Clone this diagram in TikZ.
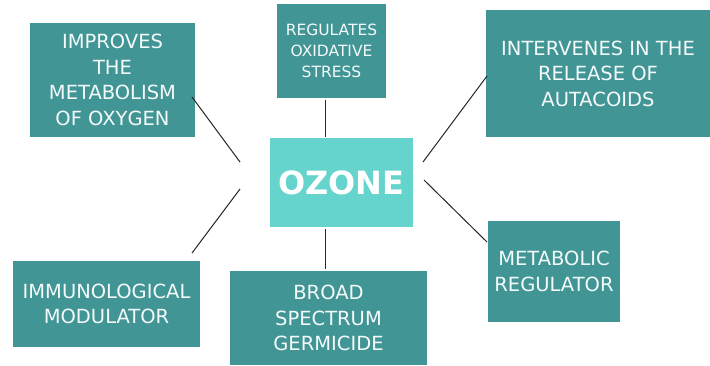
\documentclass[tikz,border=0pt]{standalone}
\usepackage{fontspec}
\setmainfont{DejaVu Sans}
\definecolor{boxteal}{HTML}{419594}
\definecolor{ozteal}{HTML}{64D4CD}
\definecolor{txt}{HTML}{F4FAFA}
\begin{document}
\begin{tikzpicture}[x=1pt,y=1pt,
  tbox/.style={fill=boxteal,draw=none,text=txt,align=center,inner sep=0pt,
    font=\fontsize{19.5}{25.5}\selectfont},
  conn/.style={draw=black!85,line width=1pt}]
\useasboundingbox[fill=white] (0,0) rectangle (710,-365);
\node[tbox,minimum width=165,minimum height=114] (imp) at (112.5,-80) {IMPROVES\\THE\\METABOLISM\\OF OXYGEN};
\node[tbox,minimum width=109,minimum height=94,font=\fontsize{15.5}{21}\selectfont] (reg) at (331.5,-51) {REGULATES\\OXIDATIVE\\STRESS};
\node[tbox,minimum width=224,minimum height=127] (int) at (598,-73.5) {INTERVENES IN THE\\RELEASE OF\\AUTACOIDS};
\node[tbox,fill=ozteal,text=white,minimum width=143,minimum height=89,font=\fontsize{32}{36}\selectfont\bfseries] (oz) at (341.5,-182.5) {OZONE};
\node[tbox,minimum width=187,minimum height=86] (imm) at (106.5,-304) {IMMUNOLOGICAL\\MODULATOR};
\node[tbox,minimum width=197,minimum height=94] (brd) at (328.5,-318) {BROAD\\SPECTRUM\\GERMICIDE};
\node[tbox,minimum width=132,minimum height=101] (met) at (554,-271.5) {METABOLIC\\REGULATOR};
\coordinate (a1) at (192,-97);  \coordinate (b1) at (240,-162);
\coordinate (a2) at (325,-100); \coordinate (b2) at (325,-137);
\coordinate (a3) at (487,-76);  \coordinate (b3) at (423,-162);
\coordinate (a4) at (424,-180); \coordinate (b4) at (487,-242);
\coordinate (a5) at (240,-189); \coordinate (b5) at (192,-253);
\coordinate (a6) at (325,-229); \coordinate (b6) at (325,-269);
\draw[conn] (a1) -- (b1);
\draw[conn] (a2) -- (b2);
\draw[conn] (a3) -- (b3);
\draw[conn] (a4) -- (b4);
\draw[conn] (a5) -- (b5);
\draw[conn] (a6) -- (b6);
\end{tikzpicture}
\end{document}
